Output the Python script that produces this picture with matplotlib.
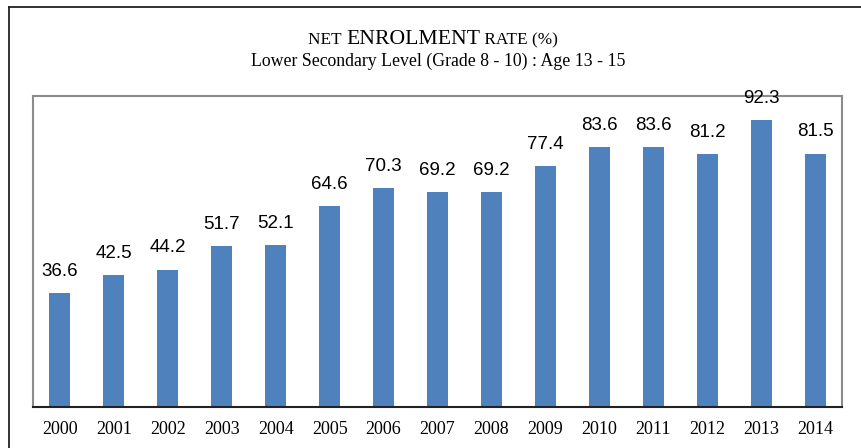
import matplotlib
matplotlib.use("Agg")
import matplotlib.pyplot as plt
from matplotlib.lines import Line2D

# data
years = ["2000", "2001", "2002", "2003", "2004", "2005", "2006", "2007",
         "2008", "2009", "2010", "2011", "2012", "2013", "2014"]
rates = [36.6, 42.5, 44.2, 51.7, 52.1, 64.6, 70.3, 69.2,
         69.2, 77.4, 83.6, 83.6, 81.2, 92.3, 81.5]

W, H = 861, 448
fig = plt.figure(figsize=(W / 100, H / 100), dpi=100)
ax = fig.add_axes([33 / W, 1 - 407 / H, (842 - 33) / W, (407 - 96) / H])

x = range(len(years))
bars = ax.bar(x, rates, width=0.39, color="#4F81BD")
for xi, v in zip(x, rates):
    ax.annotate(f"{v:.1f}", (xi, v), xytext=(0, 9.5), textcoords="offset points",
                ha="center", va="bottom", fontsize=13.5,
                family="Liberation Sans", annotation_clip=False)

ax.set_xlim(-0.5, len(years) - 0.5)
ax.set_ylim(0, 100)
ax.set_xticks(list(x))
ax.set_xticklabels(years, family="Liberation Serif", fontsize=13)
ax.tick_params(axis="x", length=0, pad=10)
ax.set_yticks([])
for side in ["left", "top", "right"]:
    ax.spines[side].set_color("#8c8c8c")
    ax.spines[side].set_linewidth(1.5)
ax.spines["bottom"].set_color("#222222")
ax.spines["bottom"].set_linewidth(1.5)

# outer frame (only top and left edges are visible)
fig.add_artist(Line2D([9 / W, 1], [1 - 7 / H, 1 - 7 / H], color="#222222", lw=1.3))
fig.add_artist(Line2D([9 / W, 9 / W], [1 - 7 / H, 0], color="#222222", lw=1.3))

# title with small caps look
fig.canvas.draw()
r = fig.canvas.get_renderer()
ty = 1 - 44 / H
mid = fig.text(413 / W, ty, "ENROLMENT", ha="center", va="baseline",
               family="Liberation Serif", fontsize=15.6)
bb = mid.get_window_extent(r)
fig.text(bb.x0 / W, ty, "NET ", ha="right", va="baseline",
         family="Liberation Serif", fontsize=12.4)
fig.text(bb.x1 / W, ty, " RATE (%)", ha="left", va="baseline",
         family="Liberation Serif", fontsize=12.4)
fig.text(438 / W, 1 - 66 / H, "Lower Secondary Level (Grade 8 - 10) : Age 13 - 15",
         ha="center", va="baseline", family="Liberation Serif", fontsize=12.8)

fig.savefig("out.png", dpi=100)
